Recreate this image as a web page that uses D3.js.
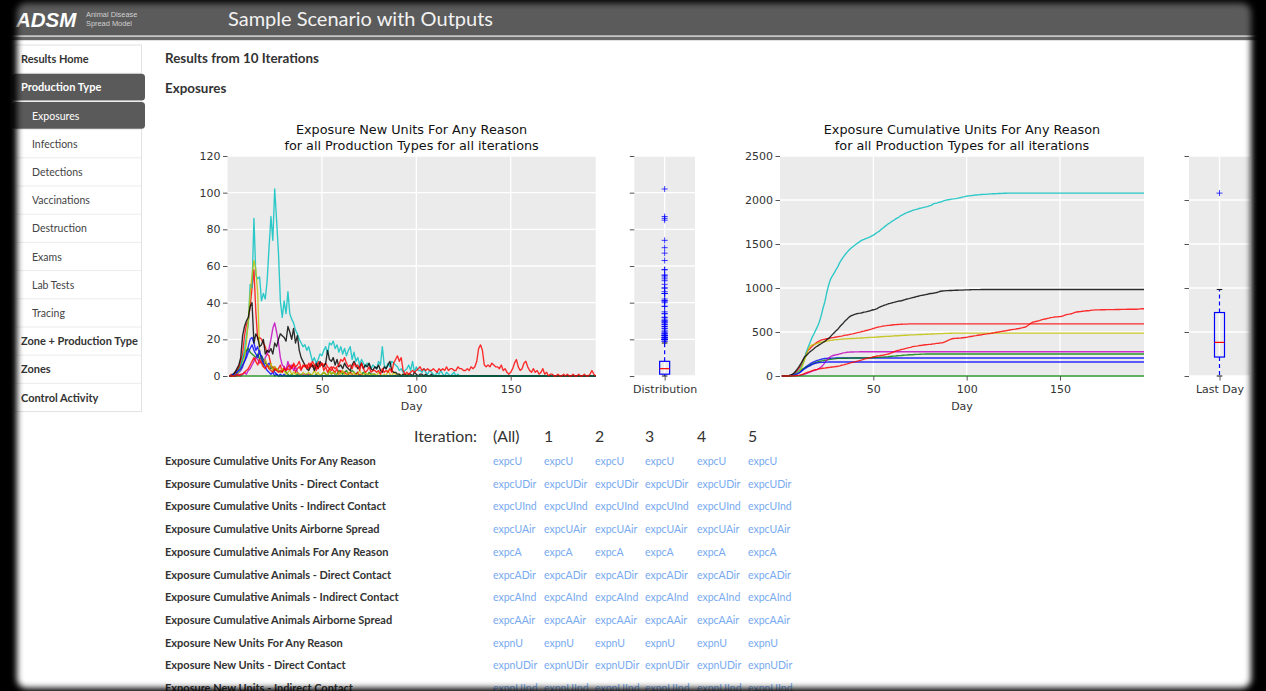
<!DOCTYPE html>
<html><head><meta charset="utf-8">
<script src="https://cdn.jsdelivr.net/npm/d3@7"></script>
<style>
html,body{margin:0;padding:0;background:#000;overflow:hidden;}
svg{display:block;}
</style></head><body>
<svg id="page" width="1266" height="691"></svg>
<script>
// ---------------- DATA ----------------
const pageTitle = "Sample Scenario with Outputs";
const resultsHeading = "Results from 10 Iterations";
const sectionHeading = "Exposures";
const navItems = ["Results Home","Production Type","Exposures","Infections","Detections","Vaccinations","Destruction","Exams","Lab Tests","Tracing","Zone + Production Type","Zones","Control Activity"];
const navLevels = [0,0,1,1,1,1,1,1,1,1,0,0,0];
const navActive = [0,1,1,0,0,0,0,0,0,0,0,0,0];

const newTitle = ["Exposure New Units For Any Reason","for all Production Types for all iterations"];
const cumTitle = ["Exposure Cumulative Units For Any Reason","for all Production Types for all iterations"];
const newUnitsTicks = [0,20,40,60,80,100,120];
const cumUnitsTicks = [0,500,1000,1500,2000,2500];
const dayTicks = [50,100,150];
const lastDay = 195;

// daily new exposed units per iteration (day 1 onward, until the iteration ends)
const iter1New = [0,0,0,1,1,2,3, 5,8,12,16,20,21, 18,14,16,12,11,9, 8,6,7,5,4, 2,1,0,1,0,1];
const iter2New = [0,0,1,2,3,4,6, 9,12,14,15,13,12,11, 10,12,9,11,8,7,6,5, 4,5,3,4,3,2,3,4,2,
  1,0,1,0,0,1,0,1,0,0,1,0,1,0,0,1,0,0,1, 2,1,0,3,1,2,1,1, 3,2,1,2,3,1,2,3,2, 1,2,0,1,2,1,0,2,1,1,1];
const iter3New = [0,1,0,2,3,5,8,12, 22,28,30,38,48,58,35,20,21,20,18,16, 12,11, 6,4,5,3,4,6,2,5,3,
  4,3,5,6,2,4,5,3,6, 5,6,4,7,5,6,3,8,5,7, 6,7,5,4,5, 3,2,4,1,3,2,2,1,1, 2,1,0,1,2,0,1];
const iter4New = [0,0,1,0,2, 3,5,9,14,22, 28,50,48,86,55, 53,54,41,45,42,52, 70,87,74,102,85,67,
  41,32,41,34, 46,34,31,29,25, 23,20,18,16, 17,14,16,12, 8,10,7,9,12,11,
  14,16,12,18,17,19,15,17,13,16, 12,15,11,14,16,9,13, 8,10,6,9,7, 5,7,6,4,6,5,4,8,6, 16,
  6,4,7,5,8, 7,6,5,3,4,2,3, 4,6,3,8,2,5,3, 3,2,4,2,1,3, 2,1,0,2,1,3,1,0,2,1,0,1,2,0,1];
const iter5New = [0,0,0,0,0,1,0,1,2,1,3, 4,6,8,10,9,7,8,6, 10,12,15, 20,26,29,24, 18,10,6, 5,3,8,4,6,3,5, 2,1,0,1,1,0,1,0,0];
const iter6New = [0,0,0,1,1,2,4,6,10, 18,30,45,55,63,58,45, 12,8,5,9,6,4,7,3,5,4,3, 2,4,3,1,2,3,1,2,
  1,2,1,0,2,1,1,2,0,1,3,1,2,0,1, 2,1,0,3,1,2,1,0,2,1,3,1,0,2,1,1,2,0,1,3,1,0,2,1,1,0,1,
  1,0,2,1,0,1,0,3,1,0,2,1,0,1,0,1,0,1];
const iter7New = [0,0,1,2,4,6,10, 22,27,30,32,38,40, 18,23,21,16,17,20, 12,14,13,15,12,18,16, 20,23,22,21,19,27,
  24,20,26,18,22, 14,10,8,6,4,3, 5,6,3,7,4,8,6, 5,7,14,9,8,10,6,9, 5,6,4,7,5,4,3,6,8, 6,4,5,7,4,6,5,7,4,
  3,5,4,6,3,2,5,4,6, 8,3,2,2,1,1,0,1,1, 0,1,1,0,2,1,0,1,1, 0,1,0,0,1,0,0,0,0,0,0,0];
const iter8New = [0,0,1,0,2,3,4,6, 8,10,13,15,17,14, 12,10,14,9,7,5, 3,2,1,2,0,1];
const iter9New = [0,0,0,0,0,0,0,0,0,0];
const iter10New = [0,0,0,0,1,0,1, 1,2,3,4,6,8,10, 8,6,9,7,5,4,6,4, 3,2,4,3,2,3,2,4,3, 5,6,4,7,5,6,8,4,5,
  6,4,7,5,8,6,5,4,6,7, 3,5,2,4,3,5,4,5, 6,9,8,10,7,5, 6,4,7,5,6,3,7, 4,2,3,5,2,3,3, 2,3,1,4,2,3,2,4,2,
  7,9,11,8,10, 3,1,2,1,2,3,2, 3,4,5,3,4,3,4,3, 3,4,3,2,4,3,4,3,5,3, 4,4,3,3,5,4,4,3,3,4,3,5,4,5,
  8,15,17,14,6, 5,6,5,7,6,5, 5,4,6,3,4,2,1,2,4, 7,9,5,3,4,7,8, 5,3,2,4, 2,3,1,2,4,1,2,0,1,
  1,0,0,1,0,0,1,0,1,0,0,1,0,0,1,0,0,1,0,0,1,3,1,0];
const iterationsNew = [iter1New,iter2New,iter3New,iter4New,iter5New,iter6New,iter7New,iter8New,iter9New,iter10New];
const iterationColors = ["#0000ff","#008000","#ff0000","#00bfbf","#bf00bf","#bfbf00","#000000","#0000ff","#008000","#ff0000"];

const iterationHeaders = ["(All)","1","2","3","4","5"];
const outputNames = ["Exposure Cumulative Units For Any Reason","Exposure Cumulative Units - Direct Contact","Exposure Cumulative Units - Indirect Contact","Exposure Cumulative Units Airborne Spread","Exposure Cumulative Animals For Any Reason","Exposure Cumulative Animals - Direct Contact","Exposure Cumulative Animals - Indirect Contact","Exposure Cumulative Animals Airborne Spread","Exposure New Units For Any Reason","Exposure New Units - Direct Contact","Exposure New Units - Indirect Contact"];
const outputCodes = ["expcU","expcUDir","expcUInd","expcUAir","expcA","expcADir","expcAInd","expcAAir","expnU","expnUDir","expnUInd"];

// ---------------- DRAW ----------------
const W = 1266, H = 691;
const svg = d3.select("#page");
const defs = svg.append("defs");
const flt = defs.append("filter").attr("id","soft").attr("x","-5%").attr("y","-5%").attr("width","110%").attr("height","110%");
flt.append("feGaussianBlur").attr("stdDeviation",3);

const uiFont = "Lato, 'Open Sans', sans-serif";
const chartFont = "'DejaVu Sans', sans-serif";

svg.append("rect").attr("width",W).attr("height",H).attr("fill","#fff");

// header
svg.append("rect").attr("x",0).attr("y",0).attr("width",W).attr("height",36).attr("fill","#5b5b5b");
svg.append("rect").attr("x",0).attr("y",35.3).attr("width",W).attr("height",1.6).attr("fill","#cdcdcd");
svg.append("rect").attr("x",0).attr("y",36.9).attr("width",W).attr("height",3.3).attr("fill","#6a6a6a");
svg.append("text").attr("x",16).attr("y",26.5).text("ADSM")
  .attr("font-family","'Liberation Sans', Arial, sans-serif").attr("font-weight","bold").attr("font-style","italic")
  .attr("font-size",20.5).attr("fill","#fff");
svg.append("text").attr("x",86).attr("y",16.5).text("Animal Disease").attr("font-family","'Liberation Sans', sans-serif").attr("font-size",7.4).attr("fill","#d0d0d0");
svg.append("text").attr("x",86).attr("y",25.5).text("Spread Model").attr("font-family","'Liberation Sans', sans-serif").attr("font-size",7.4).attr("fill","#d0d0d0");
svg.append("text").attr("x",228).attr("y",26).text(pageTitle).attr("font-family",uiFont).attr("font-size",20).attr("fill","#f2f2f2");

// sidebar
const navTop = 45, navPitch = 28.2, navLeft = 14, navRight = 141.5;
const nav = svg.append("g");
nav.append("rect").attr("x",navLeft).attr("y",navTop).attr("width",navRight-navLeft).attr("height",navItems.length*navPitch)
  .attr("fill","#fff").attr("stroke","#e2e2e2");
navItems.forEach((label,i)=>{
  const top = navTop + i*navPitch;
  if (i>0) nav.append("line").attr("x1",navLeft).attr("x2",navRight).attr("y1",top).attr("y2",top).attr("stroke","#ececec");
  if (navActive[i]) nav.append("rect").attr("x",navLeft-2).attr("y",top+0.6).attr("width",145-navLeft+2).attr("height",navPitch-1.4).attr("rx",3.5).attr("fill","#5a5a5a");
  nav.append("text").attr("x",navLevels[i]?32:21).attr("y",top+18.2).text(label)
    .attr("font-family",uiFont).attr("font-weight",navLevels[i]?"normal":"bold")
    .attr("font-size",navLevels[i]?10.5:11)
    .attr("fill",navActive[i]?"#fff":(navLevels[i]?"#444":"#333"));
});

// headings
svg.append("text").attr("x",165).attr("y",62.5).text(resultsHeading).attr("font-family",uiFont).attr("font-weight","bold").attr("font-size",13.4).attr("fill","#333");
svg.append("text").attr("x",165).attr("y",92.5).text(sectionHeading).attr("font-family",uiFont).attr("font-weight","bold").attr("font-size",13.4).attr("fill","#333");

// chart helpers
const plotTop = 156, plotBottom = 376;
const padSeries = s => Array.from({length:lastDay}, (_,i)=> i < s.length ? s[i] : 0);
const newPadded = iterationsNew.map(padSeries);
const cumPadded = newPadded.map(s => Array.from(d3.cumsum(s)));

function styleAxis(g){
  g.select(".domain").remove();
  g.selectAll(".tick line").attr("stroke","#555").attr("stroke-width",1);
  g.selectAll(".tick text").attr("fill","#333").attr("font-family",chartFont).attr("font-size",11);
}

function linePanel(x0, x1, yMax, yTicks, series, title){
  const x = d3.scaleLinear().domain([0,lastDay]).range([x0,x1]);
  const y = d3.scaleLinear().domain([0,yMax]).range([plotBottom,plotTop]);
  const g = svg.append("g");
  g.append("rect").attr("x",x0).attr("y",plotTop).attr("width",x1-x0).attr("height",plotBottom-plotTop).attr("fill","#ebebeb");
  g.selectAll(".gy").data(yTicks).join("line").attr("x1",x0).attr("x2",x1).attr("y1",d=>y(d)).attr("y2",d=>y(d)).attr("stroke","#fff").attr("stroke-width",1.3);
  g.selectAll(".gx").data(dayTicks).join("line").attr("x1",d=>x(d)).attr("x2",d=>x(d)).attr("y1",plotTop).attr("y2",plotBottom).attr("stroke","#fff").attr("stroke-width",1.3);
  const line = d3.line().x((d,i)=>x(i+1)).y(d=>y(d));
  series.forEach((s,k)=>{
    g.append("path").attr("d",line(s)).attr("fill","none").attr("stroke",iterationColors[k]).attr("stroke-width",1.35).attr("stroke-opacity",0.82).attr("stroke-linejoin","round");
  });
  g.append("g").attr("transform",`translate(${x0},0)`).call(d3.axisLeft(y).tickValues(yTicks).tickFormat(d3.format("d")).tickSize(4.5).tickPadding(2.5)).call(styleAxis);
  g.append("g").attr("transform",`translate(0,${plotBottom})`).call(d3.axisBottom(x).tickValues(dayTicks).tickFormat(d3.format("d")).tickSize(4.5).tickPadding(5)).call(styleAxis);
  g.append("text").attr("x",(x0+x1)/2).attr("y",410).attr("text-anchor","middle").text("Day").attr("font-family",chartFont).attr("font-size",11).attr("fill","#333");
  title.forEach((t,i)=> g.append("text").attr("x",(x0+x1)/2).attr("y",133.6+i*16).attr("text-anchor","middle").text(t).attr("font-family",chartFont).attr("font-size",12.8).attr("fill","#111"));
}

function boxPanel(x0, x1, yMax, yTicks, values, label){
  const xb = d3.scalePoint().domain([label]).range([x0,x1]).padding(0.5);
  const y = d3.scaleLinear().domain([0,yMax]).range([plotBottom,plotTop]);
  const g = svg.append("g");
  g.append("rect").attr("x",x0).attr("y",plotTop).attr("width",x1-x0).attr("height",plotBottom-plotTop).attr("fill","#ebebeb");
  g.selectAll(".gy").data(yTicks).join("line").attr("x1",x0).attr("x2",x1).attr("y1",d=>y(d)).attr("y2",d=>y(d)).attr("stroke","#fff").attr("stroke-width",1.3);
  const cx = xb(label);
  g.append("line").attr("x1",cx).attr("x2",cx).attr("y1",plotTop).attr("y2",plotBottom).attr("stroke","#fff").attr("stroke-width",1.3);
  const s = values.slice().sort(d3.ascending);
  const q1 = d3.quantileSorted(s,0.25), med = d3.quantileSorted(s,0.5), q3 = d3.quantileSorted(s,0.75);
  const iqr = q3-q1, hiF = q3+1.5*iqr, loF = q1-1.5*iqr;
  const hi = d3.max(s.filter(v=>v<=hiF)), lo = d3.min(s.filter(v=>v>=loF));
  const fliers = s.filter(v=>v>hiF || v<loF);
  const bw = 10;
  g.append("line").attr("x1",cx).attr("x2",cx).attr("y1",y(q3)).attr("y2",y(hi)).attr("stroke","#0000ff").attr("stroke-dasharray","4,3").attr("stroke-width",1.2);
  g.append("line").attr("x1",cx).attr("x2",cx).attr("y1",y(q1)).attr("y2",y(lo)).attr("stroke","#0000ff").attr("stroke-dasharray","4,3").attr("stroke-width",1.2);
  [hi,lo].forEach(v=> g.append("line").attr("x1",cx-2.8).attr("x2",cx+2.8).attr("y1",y(v)).attr("y2",y(v)).attr("stroke","#222").attr("stroke-width",1.1));
  g.append("rect").attr("x",cx-bw/2).attr("y",y(q3)).attr("width",bw).attr("height",y(q1)-y(q3)).attr("fill","none").attr("stroke","#0000ff").attr("stroke-width",1.2);
  g.append("line").attr("x1",cx-bw/2).attr("x2",cx+bw/2).attr("y1",y(med)).attr("y2",y(med)).attr("stroke","#ff0000").attr("stroke-width",1.2);
  g.selectAll(".fl").data(fliers).join("path").attr("d",d=>`M${cx-3},${y(d)}H${cx+3}M${cx},${y(d)-3}V${y(d)+3}`).attr("stroke","#0000ff").attr("stroke-opacity",0.75).attr("stroke-width",1);
  g.append("g").attr("transform",`translate(${x0},0)`).call(d3.axisLeft(y).tickValues(yTicks).tickSize(4.5).tickFormat("")).call(styleAxis);
  g.append("g").attr("transform",`translate(0,${plotBottom})`).call(d3.axisBottom(xb).tickSize(4.5).tickPadding(5)).call(styleAxis);
}

linePanel(227.5, 595.7, 120, newUnitsTicks, newPadded, newTitle);
boxPanel(634.3, 695, 120, newUnitsTicks, iterationsNew.flat(), "Distribution");
linePanel(780, 1144, 2500, cumUnitsTicks, cumPadded, cumTitle);
boxPanel(1189, 1250, 2500, cumUnitsTicks, cumPadded.map(s=>s[s.length-1]), "Last Day");

// iteration table
const colX = [493,544,595,645,697,748];
svg.append("text").attr("x",477).attr("y",441.5).attr("text-anchor","end").text("Iteration:").attr("font-family",uiFont).attr("font-size",15.8).attr("fill","#333");
iterationHeaders.forEach((h,j)=> svg.append("text").attr("x",colX[j]).attr("y",441.5).text(h).attr("font-family",uiFont).attr("font-size",15.8).attr("fill","#333"));
outputNames.forEach((name,i)=>{
  const yy = 465 + i*22.7;
  svg.append("text").attr("x",165).attr("y",yy).text(name).attr("font-family",uiFont).attr("font-weight","bold").attr("font-size",11).attr("fill","#333");
  colX.forEach(cx=> svg.append("text").attr("x",cx).attr("y",yy).text(outputCodes[i]).attr("font-family",uiFont).attr("font-size",10.5).attr("fill","#78aaf0"));
});

// dark vignette frame
const L=17, T=3, R=1251, B=688, r=9;
svg.append("path").attr("fill-rule","evenodd").attr("fill","#000").attr("filter","url(#soft)")
  .attr("d",`M-60,-60H${W+60}V${H+60}H-60Z M${L+r},${T}H${R-r}A${r},${r} 0 0 1 ${R},${T+r}V${B-r}A${r},${r} 0 0 1 ${R-r},${B}H${L+r}A${r},${r} 0 0 1 ${L},${B-r}V${T+r}A${r},${r} 0 0 1 ${L+r},${T}Z`);
</script>
</body></html>
